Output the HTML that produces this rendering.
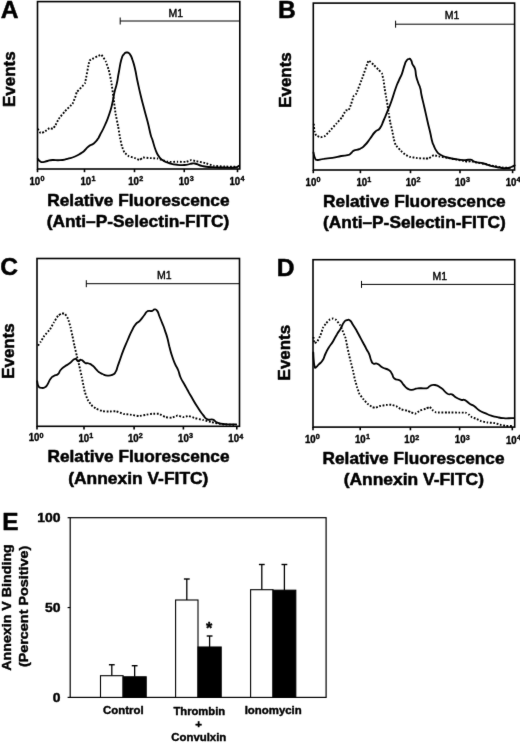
<!DOCTYPE html>
<html><head><meta charset="utf-8"><title>Figure</title>
<style>html,body{margin:0;padding:0;background:#fff;}body{width:520px;height:746px;overflow:hidden;}svg{display:block;font-family:"Liberation Sans",sans-serif;font-weight:bold;fill:#000;}.ax{stroke:#000;fill:none;stroke-width:1.6;}.so{stroke:#000;fill:none;stroke-width:1.85;stroke-linejoin:round;stroke-linecap:round;}.do{stroke:#000;fill:none;stroke-width:1.9;stroke-dasharray:1.75 1.65;stroke-linejoin:round;}.th{stroke:#000;fill:none;stroke-width:1;}.t1{stroke:#000;stroke-width:0.5;stroke-linejoin:round;}.t2{stroke:#000;stroke-width:0.5;stroke-linejoin:round;}.t0{stroke:#000;stroke-width:0.4;stroke-linejoin:round;}</style></head><body>
<svg width="520" height="746" viewBox="0 0 520 746">
<defs><filter id="bl" x="0" y="0" width="520" height="746" filterUnits="userSpaceOnUse" color-interpolation-filters="sRGB"><feConvolveMatrix order="3" kernelMatrix="0.01 0.06 0.01 0.06 0.72 0.06 0.01 0.06 0.01" divisor="1" edgeMode="duplicate" preserveAlpha="false"/></filter></defs>
<rect x="0" y="0" width="520" height="746" fill="#fff"/>
<g filter="url(#bl)">
<g>
<rect class="ax" x="37.5" y="1.6" width="202.3" height="167.4"/>
<line class="ax" x1="37.50" y1="169.0" x2="37.50" y2="172.2"/>
<text class="t0" x="29.50" y="184.60" font-size="10.4" textLength="10.7" lengthAdjust="spacingAndGlyphs">10</text>
<text class="t0" x="40.40" y="180.90" font-size="7.2">0</text>
<line class="ax" x1="84.50" y1="169.0" x2="84.50" y2="172.2"/>
<text class="t0" x="80.50" y="184.60" font-size="10.4" textLength="10.7" lengthAdjust="spacingAndGlyphs">10</text>
<text class="t0" x="91.40" y="180.90" font-size="7.2">1</text>
<line class="ax" x1="134.50" y1="169.0" x2="134.50" y2="172.2"/>
<text class="t0" x="128.25" y="184.60" font-size="10.4" textLength="10.7" lengthAdjust="spacingAndGlyphs">10</text>
<text class="t0" x="139.15" y="180.90" font-size="7.2">2</text>
<line class="ax" x1="184.25" y1="169.0" x2="184.25" y2="172.2"/>
<text class="t0" x="178.75" y="184.60" font-size="10.4" textLength="10.7" lengthAdjust="spacingAndGlyphs">10</text>
<text class="t0" x="189.65" y="180.90" font-size="7.2">3</text>
<line class="ax" x1="237.50" y1="169.0" x2="237.50" y2="172.2"/>
<text class="t0" x="229.50" y="184.60" font-size="10.4" textLength="10.7" lengthAdjust="spacingAndGlyphs">10</text>
<text class="t0" x="240.40" y="180.90" font-size="7.2">4</text>
<line class="th" x1="120.2" y1="21" x2="239.8" y2="21"/>
<line class="th" x1="120.2" y1="17.5" x2="120.2" y2="24.5"/>
<path class="do" d="M37.8,128.8 C37.9,128.9 40.3,133.0 40.6,133.1 C40.9,133.2 44.0,132.1 44.4,131.9 C44.8,131.7 49.1,128.2 49.4,128.1 C49.7,128.0 52.9,128.9 53.1,128.8 C53.3,128.6 55.4,125.4 55.6,125.0 C55.8,124.6 58.4,119.3 58.8,118.8 C59.1,118.2 64.5,111.8 65.0,111.2 C65.5,110.7 72.1,104.3 72.5,103.8 C72.9,103.2 75.4,96.7 75.6,96.2 C75.8,95.8 76.5,92.4 76.9,91.9 C77.3,91.4 84.5,84.4 85.0,83.1 C85.5,81.8 88.9,61.7 89.6,60.6 C90.2,59.5 100.6,54.7 101.2,54.8 C101.9,54.8 105.3,60.6 105.6,61.2 C105.9,61.9 108.5,69.2 108.8,70.0 C109.0,70.8 111.0,80.0 111.2,81.2 C111.5,82.5 113.6,98.7 113.8,100.0 C113.9,101.3 115.4,112.7 115.6,113.8 C115.8,114.8 117.9,125.3 118.1,126.2 C118.3,127.2 119.8,136.7 120.0,137.5 C120.2,138.3 121.7,145.7 121.9,146.2 C122.1,146.8 124.1,152.1 124.4,152.5 C124.7,152.9 128.3,156.0 128.8,156.2 C129.2,156.5 134.6,157.9 135.0,158.1 C135.4,158.2 139.1,160.0 139.4,160.0 C139.7,160.0 142.7,157.6 143.1,157.5 C143.5,157.4 149.4,158.1 150.0,158.1 C150.6,158.1 156.8,158.4 157.5,158.5 C158.2,158.6 167.2,161.7 168.0,161.8 C168.8,161.9 176.8,161.8 177.5,161.8 C178.2,161.8 185.5,161.9 186.1,161.8 C186.7,161.7 190.9,160.1 191.3,160.1 C191.7,160.1 195.9,161.2 196.5,161.3 C197.1,161.4 204.5,162.8 205.2,163.0 C205.9,163.2 213.0,165.7 213.8,165.8 C214.6,165.9 223.3,166.5 224.2,166.5 C225.1,166.5 235.8,166.8 236.3,166.8"/>
<path class="so" d="M37.8,158.8 C38.4,159.5 38.4,160.2 40.0,161.2 C41.6,162.3 40.9,162.2 43.1,162.1 C45.4,162.0 44.7,161.6 47.5,161.0 C50.3,160.4 48.8,160.2 52.5,160.0 C56.2,159.8 55.5,160.6 60.0,160.2 C64.5,159.9 63.0,159.9 67.5,158.8 C72.0,157.6 70.9,158.2 75.0,156.5 C79.1,154.8 78.2,155.0 81.2,153.1 C84.2,151.2 82.8,152.1 85.0,150.0 C87.2,147.9 86.1,148.2 88.8,146.2 C91.4,144.3 91.1,145.6 93.8,143.5 C96.4,141.4 95.6,142.0 97.5,139.4 C99.4,136.8 97.8,139.3 100.0,135.0 C102.2,130.7 102.2,131.4 105.0,125.0 C107.8,118.6 107.2,120.5 109.4,113.8 C111.7,107.0 111.0,108.9 112.5,102.5 C114.0,96.1 113.1,98.3 114.4,92.5 C115.7,86.7 115.6,89.1 116.9,83.1 C118.2,77.1 117.4,79.4 118.8,72.5 C120.1,65.6 119.8,65.4 121.2,60.0 C122.8,54.6 122.1,56.6 123.8,54.4 C125.4,52.1 125.0,52.5 126.9,52.5 C128.8,52.5 128.3,52.1 130.0,54.4 C131.7,56.6 131.0,55.7 132.5,60.0 C134.0,64.3 133.5,62.4 135.0,68.8 C136.5,75.1 135.8,73.4 137.5,81.2 C139.2,89.1 138.7,87.1 140.6,95.0 C142.5,102.9 141.7,99.6 143.8,107.5 C145.8,115.4 145.4,113.2 147.5,121.2 C149.6,129.3 149.1,128.8 150.6,134.4 C152.1,140.0 151.0,135.3 152.5,140.0 C154.0,144.7 153.7,145.1 155.6,150.0 C157.5,154.9 156.7,153.2 158.8,156.2 C160.8,159.2 159.5,158.0 162.5,160.0 C165.5,162.0 164.3,161.6 168.8,163.0 C173.3,164.4 172.3,164.3 177.5,164.8 C182.7,165.3 181.7,165.2 186.1,164.8 C190.5,164.4 189.1,163.7 192.2,163.5 C195.3,163.3 193.4,163.2 196.5,164.0 C199.6,164.8 197.9,165.1 202.6,166.1 C207.3,167.1 205.6,166.8 212.1,167.2 C218.6,167.6 217.4,167.4 224.2,167.5 C230.9,167.6 230.2,168.0 234.6,167.5 C239.0,167.0 237.6,166.3 238.9,165.8"/>
<text class="t2" x="0.8" y="17.6" font-size="24.6">A</text>
<text class="t1" transform="translate(14.7,79.2) rotate(-90)" font-size="15.7" text-anchor="middle" textLength="55.6" lengthAdjust="spacingAndGlyphs">Events</text>
<text class="t1" x="138.4" y="206" font-size="16.3" text-anchor="middle" textLength="182.2" lengthAdjust="spacingAndGlyphs">Relative Fluorescence</text>
<text class="t1" x="138" y="227" font-size="16.3" text-anchor="middle" textLength="182.6" lengthAdjust="spacingAndGlyphs">(Anti–P-Selectin-FITC)</text>
<text x="175.7" y="16.7" class="t0" style="stroke-width:0.4" font-size="10.5" font-weight="normal" text-anchor="middle">M1</text>
</g>
<g>
<rect class="ax" x="313.3" y="3.1" width="201.3" height="166.9"/>
<line class="ax" x1="313.30" y1="170.0" x2="313.30" y2="173.2"/>
<text class="t0" x="305.60" y="185.60" font-size="10.4" textLength="10.7" lengthAdjust="spacingAndGlyphs">10</text>
<text class="t0" x="316.50" y="181.90" font-size="7.2">0</text>
<line class="ax" x1="360.40" y1="170.0" x2="360.40" y2="173.2"/>
<text class="t0" x="356.40" y="185.60" font-size="10.4" textLength="10.7" lengthAdjust="spacingAndGlyphs">10</text>
<text class="t0" x="367.30" y="181.90" font-size="7.2">1</text>
<line class="ax" x1="410.50" y1="170.0" x2="410.50" y2="173.2"/>
<text class="t0" x="405.70" y="185.60" font-size="10.4" textLength="10.7" lengthAdjust="spacingAndGlyphs">10</text>
<text class="t0" x="416.60" y="181.90" font-size="7.2">2</text>
<line class="ax" x1="460.00" y1="170.0" x2="460.00" y2="173.2"/>
<text class="t0" x="455.00" y="185.60" font-size="10.4" textLength="10.7" lengthAdjust="spacingAndGlyphs">10</text>
<text class="t0" x="465.90" y="181.90" font-size="7.2">3</text>
<line class="ax" x1="512.60" y1="170.0" x2="512.60" y2="173.2"/>
<text class="t0" x="505.70" y="185.60" font-size="10.4" textLength="10.7" lengthAdjust="spacingAndGlyphs">10</text>
<text class="t0" x="516.60" y="181.90" font-size="7.2">4</text>
<line class="th" x1="395.6" y1="24.2" x2="514.6" y2="24.2"/>
<line class="th" x1="395.6" y1="20.7" x2="395.6" y2="27.7"/>
<path class="do" d="M313.8,123.8 C313.8,124.0 314.3,130.8 314.4,131.2 C314.5,131.7 316.0,135.4 316.2,135.6 C316.5,135.8 320.2,137.2 320.6,137.2 C321.0,137.3 324.6,136.3 325.0,136.0 C325.4,135.7 329.6,131.1 330.0,130.6 C330.4,130.1 335.8,124.3 336.2,123.8 C336.7,123.2 341.5,118.0 341.9,117.5 C342.3,117.0 345.3,110.9 345.6,110.6 C345.9,110.3 348.5,110.3 348.8,110.0 C349.0,109.7 351.1,104.3 351.2,103.8 C351.4,103.2 353.6,96.0 353.8,95.6 C353.9,95.2 355.9,94.5 356.2,93.8 C356.6,93.0 362.0,78.8 362.5,77.5 C363.0,76.2 368.1,61.1 368.5,60.6 C368.9,60.1 373.3,64.6 373.8,65.0 C374.2,65.4 378.4,69.7 378.8,70.0 C379.1,70.3 381.7,73.0 381.9,73.4 C382.1,73.8 383.5,79.9 383.6,80.5 C383.7,81.1 384.6,88.3 384.7,89.0 C384.8,89.7 386.1,96.9 386.2,97.5 C386.3,98.1 387.4,104.3 387.5,105.0 C387.6,105.7 388.6,113.0 388.8,113.8 C388.9,114.5 390.1,121.8 390.2,122.5 C390.4,123.2 392.3,130.8 392.4,131.5 C392.5,132.2 393.6,138.2 393.8,138.8 C393.9,139.3 395.4,144.6 395.6,145.0 C395.9,145.4 399.6,149.6 400.0,150.0 C400.4,150.4 404.6,154.1 405.0,154.4 C405.4,154.7 409.5,156.8 410.0,156.9 C410.5,157.0 416.9,158.0 417.5,158.1 C418.1,158.2 424.6,158.5 425.0,158.5 C425.4,158.5 428.4,158.6 428.8,158.5 C429.1,158.4 433.3,155.3 433.8,155.2 C434.2,155.1 439.5,156.5 440.0,156.6 C440.5,156.7 446.7,157.7 447.3,157.8 C447.9,157.9 455.3,159.5 456.0,159.6 C456.7,159.7 464.2,160.9 464.6,161.0 C465.0,161.1 467.0,161.8 467.2,161.8 C467.4,161.8 470.4,161.0 470.7,161.0 C471.0,161.0 474.4,162.2 475.0,162.3 C475.6,162.4 484.6,163.9 485.4,164.1 C486.2,164.3 493.3,166.0 494.0,166.1 C494.7,166.2 502.0,167.4 502.7,167.5 C503.4,167.6 511.0,167.9 511.3,167.9"/>
<path class="so" d="M313.5,152.5 C313.9,154.2 313.8,155.8 315.0,158.1 C316.2,160.3 314.9,159.8 317.5,160.0 C320.1,160.2 319.2,159.4 323.8,158.8 C328.2,158.1 327.2,158.6 332.5,157.8 C337.8,156.9 336.8,156.8 341.2,156.0 C345.8,155.2 344.5,156.1 347.5,155.2 C350.5,154.4 349.4,154.5 351.2,153.1 C353.1,151.7 351.1,151.9 353.8,150.6 C356.4,149.3 356.6,150.4 360.0,148.8 C363.4,147.1 362.0,148.0 365.0,145.0 C368.0,142.0 367.0,142.7 370.0,138.8 C373.0,134.8 372.0,135.2 375.0,132.0 C378.0,128.8 377.4,131.7 380.0,128.1 C382.6,124.5 381.5,125.1 383.8,120.0 C386.0,114.9 385.2,117.0 387.5,111.2 C389.8,105.5 389.1,107.8 391.5,101.0 C393.9,94.2 393.4,94.6 395.6,88.5 C397.8,82.4 396.9,85.0 398.8,80.6 C400.6,76.2 400.2,78.2 401.9,73.8 C403.6,69.2 403.1,69.3 404.4,65.6 C405.7,61.8 404.9,63.3 406.2,61.2 C407.6,59.2 407.5,58.9 409.0,58.8 C410.5,58.6 410.2,58.9 411.2,60.6 C412.3,62.3 411.4,62.0 412.5,64.4 C413.6,66.8 413.9,65.2 415.0,68.8 C416.1,72.3 415.3,72.1 416.2,76.2 C417.2,80.4 416.9,78.9 418.1,82.5 C419.3,86.1 419.2,84.3 420.2,88.1 C421.3,91.8 420.3,89.2 421.5,95.0 C422.7,100.8 422.6,99.6 424.4,107.5 C426.2,115.4 425.8,113.8 427.5,121.2 C429.2,128.8 428.8,126.4 430.2,132.5 C431.6,138.6 431.1,137.6 432.2,141.5 C433.3,145.4 432.5,142.8 433.8,145.6 C435.0,148.4 434.5,148.3 436.5,151.0 C438.5,153.7 437.2,152.8 440.4,154.7 C443.6,156.6 442.6,156.2 447.3,157.5 C452.0,158.8 450.8,158.4 456.0,159.2 C461.2,160.0 460.2,159.9 464.6,160.1 C469.0,160.2 467.6,159.2 470.7,159.7 C473.8,160.2 471.1,160.7 475.0,161.8 C478.9,162.9 478.9,162.3 483.6,163.5 C488.3,164.7 485.9,164.6 490.6,165.8 C495.3,167.0 494.6,166.8 499.2,167.5 C503.8,168.2 502.5,168.3 506.1,168.2 C509.7,168.0 508.8,167.9 511.3,167.0 C513.9,166.1 513.6,165.8 514.6,165.3"/>
<text class="t2" x="277.9" y="17.6" font-size="24.6">B</text>
<text class="t1" transform="translate(291,80) rotate(-90)" font-size="15.7" text-anchor="middle" textLength="55.6" lengthAdjust="spacingAndGlyphs">Events</text>
<text class="t1" x="414.4" y="206.7" font-size="16.3" text-anchor="middle" textLength="182.7" lengthAdjust="spacingAndGlyphs">Relative Fluorescence</text>
<text class="t1" x="414.4" y="227.5" font-size="16.3" text-anchor="middle" textLength="182.7" lengthAdjust="spacingAndGlyphs">(Anti–P-Selectin-FITC)</text>
<text x="452" y="18.8" class="t0" style="stroke-width:0.4" font-size="10.5" font-weight="normal" text-anchor="middle">M1</text>
</g>
<g>
<rect class="ax" x="37" y="258.5" width="202.5" height="167.8"/>
<line class="ax" x1="37.00" y1="426.3" x2="37.00" y2="429.5"/>
<text class="t0" x="28.70" y="441.20" font-size="10.4" textLength="10.7" lengthAdjust="spacingAndGlyphs">10</text>
<text class="t0" x="39.60" y="437.50" font-size="7.2">0</text>
<line class="ax" x1="84.00" y1="426.3" x2="84.00" y2="429.5"/>
<text class="t0" x="78.40" y="441.50" font-size="10.4" textLength="10.7" lengthAdjust="spacingAndGlyphs">10</text>
<text class="t0" x="89.30" y="437.80" font-size="7.2">1</text>
<line class="ax" x1="134.10" y1="426.3" x2="134.10" y2="429.5"/>
<text class="t0" x="127.90" y="441.80" font-size="10.4" textLength="10.7" lengthAdjust="spacingAndGlyphs">10</text>
<text class="t0" x="138.80" y="438.10" font-size="7.2">2</text>
<line class="ax" x1="183.40" y1="426.3" x2="183.40" y2="429.5"/>
<text class="t0" x="178.10" y="442.00" font-size="10.4" textLength="10.7" lengthAdjust="spacingAndGlyphs">10</text>
<text class="t0" x="189.00" y="438.30" font-size="7.2">3</text>
<line class="ax" x1="236.80" y1="426.3" x2="236.80" y2="429.5"/>
<text class="t0" x="228.30" y="442.30" font-size="10.4" textLength="10.7" lengthAdjust="spacingAndGlyphs">10</text>
<text class="t0" x="239.20" y="438.60" font-size="7.2">4</text>
<line class="th" x1="86.3" y1="283.7" x2="239.5" y2="283.7"/>
<line class="th" x1="86.3" y1="280.2" x2="86.3" y2="287.2"/>
<path class="do" d="M38.1,345.6 C38.2,345.5 40.3,342.3 40.6,341.9 C40.9,341.5 44.0,336.1 44.4,335.6 C44.8,335.1 49.6,329.9 50.0,329.4 C50.4,328.9 53.4,323.1 53.8,322.5 C54.1,321.9 57.8,316.0 58.1,315.6 C58.4,315.2 61.6,313.6 61.9,313.5 C62.2,313.4 64.8,313.5 65.0,313.8 C65.2,314.0 67.9,318.2 68.1,318.8 C68.3,319.3 70.4,326.8 70.6,327.5 C70.8,328.2 72.3,335.5 72.5,336.2 C72.7,337.0 74.2,344.7 74.4,345.5 C74.6,346.3 76.7,355.4 76.9,356.2 C77.1,357.1 79.2,365.4 79.4,366.2 C79.6,367.1 81.7,376.7 81.9,377.5 C82.1,378.3 83.5,385.9 83.6,386.5 C83.7,387.1 84.8,392.0 85.0,392.5 C85.2,393.0 87.2,398.9 87.5,399.4 C87.8,399.9 90.9,404.6 91.2,405.0 C91.6,405.4 95.8,408.5 96.2,408.8 C96.7,409.0 102.0,411.1 102.5,411.2 C103.0,411.4 108.2,411.5 108.8,411.5 C109.3,411.5 115.7,411.1 116.2,411.2 C116.8,411.4 123.2,413.9 123.8,414.0 C124.3,414.1 129.4,414.5 130.0,414.6 C130.6,414.7 138.2,416.0 138.8,416.0 C139.4,416.0 145.0,415.0 145.5,414.9 C146.0,414.8 151.6,413.8 152.1,413.8 C152.6,413.8 158.3,413.7 158.8,413.8 C159.3,413.9 164.9,416.9 165.4,417.1 C165.9,417.3 171.5,417.8 172.0,417.7 C172.5,417.6 177.2,415.5 177.6,415.5 C178.0,415.5 182.7,417.1 183.1,417.1 C183.5,417.1 188.1,416.0 188.6,416.0 C189.1,416.0 194.7,418.0 195.3,418.2 C195.9,418.4 202.3,419.8 203.0,420.0 C203.7,420.2 211.1,422.0 211.9,422.2 C212.7,422.4 221.9,424.3 222.9,424.4 C223.9,424.5 235.7,424.8 236.2,424.8"/>
<path class="so" d="M37.2,381.2 C37.6,382.8 37.3,384.3 38.5,386.2 C39.7,388.2 39.3,387.4 41.2,387.8 C43.2,388.1 43.1,388.3 45.0,387.2 C46.9,386.2 45.8,386.9 47.5,384.4 C49.2,381.8 48.7,381.3 50.6,378.8 C52.5,376.2 51.5,377.4 53.8,376.0 C56.0,374.6 56.0,375.8 58.1,374.0 C60.2,372.2 58.5,372.3 60.6,370.0 C62.7,367.7 62.2,368.3 65.0,366.2 C67.8,364.2 67.0,365.4 70.0,363.1 C73.0,360.9 72.6,359.3 75.0,358.8 C77.4,358.2 76.2,360.9 78.1,361.2 C80.0,361.6 79.2,359.3 81.2,359.8 C83.3,360.2 82.8,361.6 85.0,362.8 C87.2,363.9 86.5,362.6 88.8,363.5 C91.0,364.4 90.2,363.8 92.5,365.6 C94.8,367.4 94.4,367.5 96.2,369.4 C98.1,371.3 96.9,370.5 98.8,371.9 C100.6,373.3 99.9,372.9 102.5,374.0 C105.1,375.1 104.5,375.4 107.5,375.6 C110.5,375.8 110.1,375.9 112.5,374.8 C114.9,373.6 113.9,374.8 115.6,371.9 C117.3,369.0 116.4,369.7 118.1,365.0 C119.8,360.3 119.5,361.2 121.2,356.2 C123.0,351.3 122.2,353.3 124.1,348.4 C126.0,343.5 125.4,345.3 127.7,340.0 C130.0,334.7 129.5,335.3 131.9,330.6 C134.3,325.9 133.2,327.4 135.6,324.4 C138.0,321.4 137.4,323.4 140.0,320.6 C142.6,317.8 142.2,317.8 144.4,315.0 C146.7,312.2 145.2,312.4 147.5,311.2 C149.8,310.1 149.8,311.6 151.9,311.0 C154.0,310.4 153.0,309.4 154.6,309.4 C156.2,309.4 155.7,308.8 157.2,310.9 C158.7,313.0 157.9,312.6 159.5,316.5 C161.1,320.4 160.8,319.5 162.5,323.8 C164.2,328.0 163.6,326.4 165.0,330.6 C166.4,334.8 166.0,333.1 167.3,337.8 C168.6,342.5 168.0,340.9 169.3,346.2 C170.7,351.4 170.1,350.0 171.8,355.3 C173.5,360.6 173.1,359.3 175.0,363.8 C176.9,368.2 176.4,365.9 178.1,370.0 C179.8,374.1 178.7,373.1 180.6,377.5 C182.5,381.9 182.5,380.9 184.6,384.7 C186.7,388.4 185.7,386.8 187.5,390.0 C189.3,393.2 187.6,390.4 190.6,395.5 C193.6,400.6 193.8,401.3 197.5,407.1 C201.2,412.9 200.0,411.2 203.0,414.9 C206.0,418.6 204.4,417.9 207.4,419.3 C210.4,420.7 210.0,418.7 213.0,419.7 C216.0,420.7 213.8,421.2 217.4,422.6 C221.0,424.0 219.5,423.7 225.1,424.2 C230.7,424.7 232.9,424.3 236.2,424.4"/>
<text class="t2" x="0.3" y="274.9" font-size="24.6">C</text>
<text class="t1" transform="translate(13.75,351) rotate(-90)" font-size="15.7" text-anchor="middle" textLength="55.6" lengthAdjust="spacingAndGlyphs">Events</text>
<text class="t1" x="138.5" y="462.4" font-size="16.3" text-anchor="middle" textLength="182" lengthAdjust="spacingAndGlyphs">Relative Fluorescence</text>
<text class="t1" x="138.3" y="483.6" font-size="16.3" text-anchor="middle" textLength="140.2" lengthAdjust="spacingAndGlyphs">(Annexin V-FITC)</text>
<text x="164.3" y="279.1" class="t0" style="stroke-width:0.4" font-size="10.5" font-weight="normal" text-anchor="middle">M1</text>
</g>
<g>
<rect class="ax" x="313" y="259.7" width="201.70000000000005" height="167.40000000000003"/>
<line class="ax" x1="313.00" y1="427.1" x2="313.00" y2="430.3"/>
<text class="t0" x="304.90" y="442.70" font-size="10.4" textLength="10.7" lengthAdjust="spacingAndGlyphs">10</text>
<text class="t0" x="315.80" y="439.00" font-size="7.2">0</text>
<line class="ax" x1="360.20" y1="427.1" x2="360.20" y2="430.3"/>
<text class="t0" x="355.00" y="442.90" font-size="10.4" textLength="10.7" lengthAdjust="spacingAndGlyphs">10</text>
<text class="t0" x="365.90" y="439.20" font-size="7.2">1</text>
<line class="ax" x1="410.40" y1="427.1" x2="410.40" y2="430.3"/>
<text class="t0" x="404.30" y="443.20" font-size="10.4" textLength="10.7" lengthAdjust="spacingAndGlyphs">10</text>
<text class="t0" x="415.20" y="439.50" font-size="7.2">2</text>
<line class="ax" x1="459.60" y1="427.1" x2="459.60" y2="430.3"/>
<text class="t0" x="454.80" y="443.40" font-size="10.4" textLength="10.7" lengthAdjust="spacingAndGlyphs">10</text>
<text class="t0" x="465.70" y="439.70" font-size="7.2">3</text>
<line class="ax" x1="512.30" y1="427.1" x2="512.30" y2="430.3"/>
<text class="t0" x="506.00" y="443.60" font-size="10.4" textLength="10.7" lengthAdjust="spacingAndGlyphs">10</text>
<text class="t0" x="516.90" y="439.90" font-size="7.2">4</text>
<line class="th" x1="361.5" y1="284.4" x2="514.7" y2="284.4"/>
<line class="th" x1="361.5" y1="280.9" x2="361.5" y2="287.9"/>
<path class="do" d="M313.5,336.9 C313.5,337.1 314.2,342.9 314.4,343.1 C314.6,343.3 317.3,341.6 317.5,341.2 C317.7,340.9 320.4,335.6 320.6,335.0 C320.8,334.4 322.9,328.0 323.1,327.5 C323.3,327.0 326.0,323.4 326.2,323.1 C326.5,322.8 329.7,319.6 330.0,319.4 C330.3,319.2 332.9,318.5 333.1,318.5 C333.4,318.5 336.0,319.7 336.2,320.0 C336.5,320.3 339.7,324.5 340.0,325.0 C340.3,325.5 342.9,331.4 343.1,331.9 C343.3,332.4 345.4,337.5 345.6,338.1 C345.8,338.7 347.0,345.4 347.1,346.0 C347.2,346.6 348.7,353.1 348.8,353.8 C348.9,354.4 350.4,360.6 350.6,361.2 C350.8,361.9 352.9,370.5 353.1,371.2 C353.3,372.0 354.8,379.4 355.0,380.0 C355.2,380.6 357.0,386.9 357.2,387.5 C357.4,388.1 359.2,393.4 359.4,393.9 C359.6,394.3 362.8,398.4 363.1,398.8 C363.4,399.1 367.1,403.4 367.5,403.8 C367.9,404.1 372.2,407.1 372.5,407.2 C372.8,407.4 375.3,407.8 375.6,407.8 C375.9,407.7 379.6,406.1 380.0,406.0 C380.4,405.9 385.8,405.1 386.2,405.0 C386.7,404.9 390.9,404.7 391.2,404.8 C391.6,404.8 395.9,406.1 396.2,406.2 C396.6,406.4 400.8,409.2 401.2,409.4 C401.7,409.6 407.1,410.7 407.5,410.8 C407.9,410.9 410.9,412.1 411.2,412.2 C411.6,412.3 414.6,413.8 415.0,413.8 C415.4,413.7 419.6,410.8 420.0,410.6 C420.4,410.4 425.9,408.6 426.2,408.5 C426.6,408.4 429.5,406.8 429.8,406.9 C430.0,407.0 432.8,410.4 433.1,410.6 C433.4,410.8 435.7,412.4 436.2,412.5 C436.8,412.6 446.6,412.5 447.5,412.5 C448.4,412.5 459.2,412.6 460.0,412.6 C460.8,412.6 465.9,412.7 466.2,412.8 C466.6,412.9 469.2,414.8 469.4,415.0 C469.6,415.2 471.6,417.1 471.9,417.2 C472.2,417.4 475.9,418.6 476.2,418.8 C476.6,418.9 480.8,421.1 481.2,421.2 C481.7,421.4 486.9,422.4 487.5,422.5 C488.1,422.6 494.4,423.0 495.0,423.1 C495.6,423.2 500.8,424.9 501.2,425.0 C501.7,425.1 505.8,426.0 506.2,426.0 C506.7,426.0 512.2,426.0 512.5,426.0"/>
<path class="so" d="M313.3,352.5 C313.4,354.8 313.3,355.9 313.7,360.0 C314.1,364.1 313.9,364.1 314.6,366.3 C315.3,368.5 314.7,368.0 315.9,367.4 C317.1,366.8 316.8,366.4 318.8,364.4 C320.7,362.4 320.4,363.9 322.5,360.6 C324.6,357.3 323.7,357.4 325.6,353.5 C327.5,349.6 326.5,351.2 328.8,347.5 C331.0,343.8 330.7,345.2 333.1,341.2 C335.5,337.3 334.6,338.1 336.9,334.4 C339.1,330.6 338.5,332.3 340.6,328.8 C342.7,325.2 341.9,325.1 343.8,322.5 C345.6,319.9 345.0,320.8 346.9,320.2 C348.8,319.7 348.1,319.2 350.0,320.6 C351.9,322.0 351.0,321.8 353.1,325.0 C355.2,328.2 354.6,327.3 356.9,331.2 C359.1,335.2 358.3,333.8 360.6,338.1 C362.9,342.4 362.7,341.9 364.6,345.5 C366.5,349.1 365.5,347.5 366.9,350.0 C368.2,352.5 367.8,350.6 369.1,353.8 C370.4,356.9 369.9,357.5 371.2,360.5 C372.6,363.5 371.6,362.6 373.5,363.6 C375.4,364.6 374.8,362.6 377.5,363.8 C380.2,364.9 379.1,365.6 382.5,367.5 C385.9,369.4 385.9,368.1 388.8,370.0 C391.6,371.9 390.2,371.2 391.9,373.8 C393.6,376.3 392.0,376.4 394.4,378.5 C396.8,380.6 397.2,378.7 400.0,380.6 C402.8,382.6 401.5,382.6 403.8,385.0 C406.0,387.4 405.1,387.1 407.5,388.6 C409.9,390.1 408.9,390.0 411.9,389.9 C414.9,389.8 413.9,388.8 417.5,388.4 C421.1,387.9 420.8,388.5 423.8,388.4 C426.8,388.3 425.6,388.7 427.5,388.0 C429.4,387.3 427.8,386.9 430.0,386.0 C432.2,385.1 431.6,384.4 435.0,385.0 C438.4,385.6 437.5,385.5 441.2,388.1 C445.0,390.7 444.3,391.9 447.5,393.8 C450.7,395.6 449.2,393.2 451.9,394.4 C454.6,395.6 453.7,396.2 456.5,397.8 C459.3,399.4 458.7,399.0 461.2,399.8 C463.8,400.5 462.4,398.9 465.0,400.2 C467.6,401.5 467.2,402.2 470.0,404.0 C472.8,405.8 471.6,404.2 474.4,406.2 C477.2,408.2 476.2,408.5 479.4,410.6 C482.6,412.7 481.4,411.6 485.0,413.1 C488.6,414.6 487.5,414.4 491.2,415.6 C495.0,416.8 493.8,416.5 497.5,417.2 C501.2,418.0 500.4,417.9 503.8,418.2 C507.1,418.6 505.7,418.3 508.8,418.2 C511.8,418.2 512.4,418.1 514.0,418.1"/>
<text class="t2" x="276.7" y="275.9" font-size="24.6">D</text>
<text class="t1" transform="translate(290.25,352.6) rotate(-90)" font-size="15.7" text-anchor="middle" textLength="55.6" lengthAdjust="spacingAndGlyphs">Events</text>
<text class="t1" x="413.55" y="463.9" font-size="16.3" text-anchor="middle" textLength="181.9" lengthAdjust="spacingAndGlyphs">Relative Fluorescence</text>
<text class="t1" x="413.85" y="485" font-size="16.3" text-anchor="middle" textLength="140.3" lengthAdjust="spacingAndGlyphs">(Annexin V-FITC)</text>
<text x="439.7" y="279.7" class="t0" style="stroke-width:0.4" font-size="10.5" font-weight="normal" text-anchor="middle">M1</text>
</g>
<g>
<rect class="ax" x="70.2" y="517.7" width="255.90000000000003" height="179.69999999999993" style="stroke-width:1.2"/>
<line class="ax" style="stroke-width:1.2" x1="67.60000000000001" y1="517.70" x2="70.2" y2="517.70"/>
<text class="t0" x="60.50" y="522.00" font-size="12" text-anchor="end" textLength="23.22" lengthAdjust="spacingAndGlyphs">100</text>
<line class="ax" style="stroke-width:1.2" x1="67.60000000000001" y1="607.55" x2="70.2" y2="607.55"/>
<text class="t0" x="60.50" y="611.85" font-size="12" text-anchor="end" textLength="15.48" lengthAdjust="spacingAndGlyphs">50</text>
<line class="ax" style="stroke-width:1.2" x1="67.60000000000001" y1="697.40" x2="70.2" y2="697.40"/>
<text class="t0" x="60.50" y="701.70" font-size="12" text-anchor="end" textLength="7.74" lengthAdjust="spacingAndGlyphs">0</text>
<line class="th" style="stroke-width:1.3" x1="111.80" y1="664.75" x2="111.80" y2="675.7"/>
<line class="th" style="stroke-width:1.4" x1="108.90" y1="664.75" x2="114.70" y2="664.75"/>
<rect x="100.5" y="675.7" width="22.599999999999994" height="21.699999999999932" fill="#fff" stroke="#000" stroke-width="1.1"/>
<line class="th" style="stroke-width:1.3" x1="134.65" y1="665.7" x2="134.65" y2="676.8"/>
<line class="th" style="stroke-width:1.4" x1="131.75" y1="665.7" x2="137.55" y2="665.7"/>
<rect x="123.1" y="676.8" width="23.099999999999994" height="20.600000000000023" fill="#000" stroke="#000" stroke-width="1.1"/>
<line class="th" style="stroke-width:1.3" x1="186.80" y1="579" x2="186.80" y2="600"/>
<line class="th" style="stroke-width:1.4" x1="183.90" y1="579" x2="189.70" y2="579"/>
<rect x="175.6" y="600" width="22.400000000000006" height="97.39999999999998" fill="#fff" stroke="#000" stroke-width="1.1"/>
<line class="th" style="stroke-width:1.3" x1="209.60" y1="636" x2="209.60" y2="647"/>
<line class="th" style="stroke-width:1.4" x1="206.70" y1="636" x2="212.50" y2="636"/>
<rect x="198" y="647" width="23.19999999999999" height="50.39999999999998" fill="#000" stroke="#000" stroke-width="1.1"/>
<line class="th" style="stroke-width:1.3" x1="261.80" y1="564.5" x2="261.80" y2="589.7"/>
<line class="th" style="stroke-width:1.4" x1="258.90" y1="564.5" x2="264.70" y2="564.5"/>
<rect x="250.6" y="589.7" width="22.400000000000006" height="107.69999999999993" fill="#fff" stroke="#000" stroke-width="1.1"/>
<line class="th" style="stroke-width:1.3" x1="284.40" y1="564.5" x2="284.40" y2="590.2"/>
<line class="th" style="stroke-width:1.4" x1="281.50" y1="564.5" x2="287.30" y2="564.5"/>
<rect x="273" y="590.2" width="22.80000000000001" height="107.19999999999993" fill="#000" stroke="#000" stroke-width="1.1"/>
<text x="209" y="634" class="t0" font-size="16" text-anchor="middle">*</text>
<text class="t0" x="123.4" y="714.1" font-size="10.60" text-anchor="middle" textLength="40.52" lengthAdjust="spacingAndGlyphs">Control</text>
<text class="t0" x="199.3" y="714.7" font-size="10.42" text-anchor="middle" textLength="51.64" lengthAdjust="spacingAndGlyphs">Thrombin</text>
<text class="t0" x="198.7" y="727.5" font-size="10.70" text-anchor="middle" textLength="6.72" lengthAdjust="spacingAndGlyphs">+</text>
<text class="t0" x="198.8" y="740.8" font-size="10.60" text-anchor="middle" textLength="55.10" lengthAdjust="spacingAndGlyphs">Convulxin</text>
<text class="t0" x="273.2" y="714.2" font-size="10.60" text-anchor="middle" textLength="57.01" lengthAdjust="spacingAndGlyphs">Ionomycin</text>
<text transform="translate(10.8,607.5) rotate(-90)" class="t0" font-size="13.2" text-anchor="middle" textLength="126.6" lengthAdjust="spacingAndGlyphs">Annexin V Binding</text>
<text transform="translate(27.6,606.4) rotate(-90)" class="t0" font-size="13.2" text-anchor="middle" textLength="121.4" lengthAdjust="spacingAndGlyphs">(Percent Positive)</text>
<text class="t2" x="2.3" y="529.9" font-size="24.4">E</text>
</g>
</g>
</svg></body></html>
